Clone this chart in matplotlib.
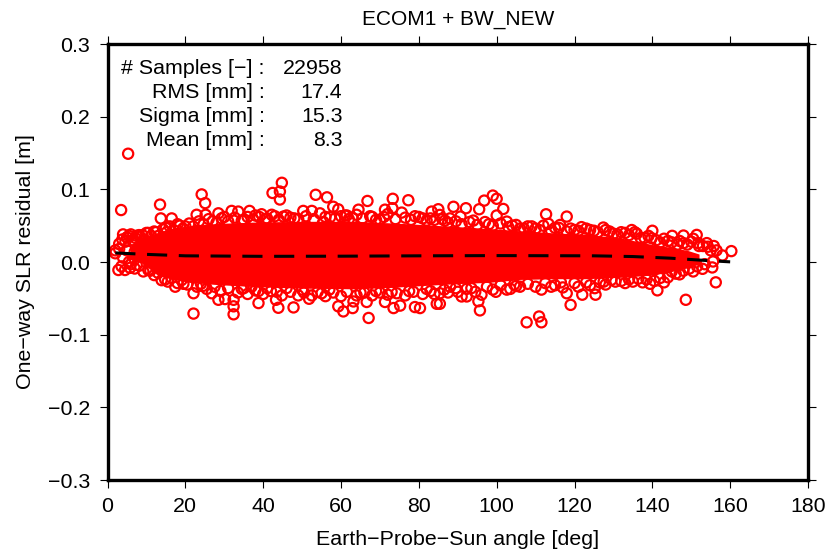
import matplotlib
matplotlib.use('Agg')
import matplotlib.pyplot as plt

plt.rcParams['font.family'] = ['Liberation Sans', 'DejaVu Sans']

# dense core of the cloud
core_deg = [6, 9, 12.6, 16, 21, 28, 38, 50, 64, 76, 89, 98, 106, 115, 123, 132, 140, 145, 149, 152]
core_top = [0.024, 0.033, 0.040, 0.046, 0.050, 0.053, 0.055, 0.056, 0.056, 0.053, 0.049, 0.046, 0.043, 0.040, 0.038, 0.033, 0.024, 0.020, 0.016, 0.011]
core_bot = [0.006, -0.002, -0.017, -0.023, -0.028, -0.031, -0.034, -0.036, -0.037, -0.034, -0.030, -0.028, -0.024, -0.023, -0.023, -0.021, -0.018, -0.013, -0.008, -0.003]

# single samples along the top of the cloud
top_deg = [5.3, 3.5, 13.5, 13.7, 16.5, 24.2, 25.1, 25.2, 22.9, 28.5, 31.9, 33.6, 36.5, 39.6, 42.2, 45.2,
           44.8, 42.4, 44.3, 44.3, 50.3, 52.5, 53.5, 54.6, 56.4, 57.2, 58.0, 59.3, 61.5, 64.5, 66.8, 71.3,
           73.3, 73.2, 75.6, 77.3, 83.3, 85.0, 85.4, 86.7, 88.9, 90.7, 92.1, 95.5, 96.8, 99.0, 100.0, 100.0,
           101.7, 102.6, 112.7, 113.3, 116.3, 118.0, 121.8, 127.4, 134.7, 140.0, 139.8, 145.1, 148.0, 148.0,
           151.4, 151.8, 154.3, 155.8, 158.0, 160.3,
           2, 4, 5, 6, 7.5, 9, 10.5, 12, 15, 18, 20, 27, 30, 35, 38, 41, 47, 49, 55.5, 60, 63, 68, 70, 72, 79, 81,
           84, 88, 94, 98, 104, 106, 108, 110, 115, 120, 123, 125, 129, 131, 133, 136, 138, 142, 144, 146.5, 150, 153]
top_val = [0.149, 0.0715, 0.079, 0.060, 0.060, 0.093, 0.081, 0.065, 0.065, 0.067, 0.0703, 0.0694, 0.0703, 0.0657, 0.065, 0.0625,
           0.109, 0.095, 0.097, 0.086, 0.0703, 0.0703, 0.0925, 0.067, 0.089, 0.0616, 0.076, 0.0725, 0.064, 0.072, 0.084, 0.072,
           0.087, 0.074, 0.068, 0.085, 0.0694, 0.0726, 0.0648, 0.057, 0.076, 0.0625, 0.074, 0.0726, 0.0845, 0.0914, 0.087, 0.064,
           0.073, 0.0556, 0.0657, 0.0525, 0.051, 0.0625, 0.048, 0.0474, 0.044, 0.043, 0.0328, 0.036, 0.0364, 0.026,
           0.0373, 0.026, 0.021, 0.022, 0.009, 0.015,
           0.016, 0.038, 0.034, 0.038, 0.036, 0.037, 0.040, 0.042, 0.047, 0.052, 0.049, 0.056, 0.062, 0.058, 0.064, 0.060, 0.061, 0.059, 0.055, 0.063, 0.060, 0.062, 0.058, 0.066, 0.063, 0.060,
           0.058, 0.060, 0.057, 0.052, 0.050, 0.046, 0.049, 0.046, 0.047, 0.044, 0.046, 0.043, 0.042, 0.038, 0.040, 0.039, 0.033, 0.027, 0.029, 0.024, 0.028, 0.022]

# second row of samples just above the core
upper_deg = [3, 3.8, 4.6, 5.5, 6.4, 7.2, 8.1, 9.4, 10, 11.2, 12.4, 13.1, 14.3, 15.2, 16, 17, 18.6, 19.4, 21, 22, 23.5, 24.7, 26, 28,
             29.3, 31, 32.7, 34.5, 36, 37.5, 39, 40.5, 43, 44, 46, 48, 51, 53, 56, 58.5, 61, 62, 64, 65.5, 67.5, 69, 71, 74, 76.5,
             78, 80, 82, 83, 86, 87.5, 89.5, 91, 93, 95, 97, 99, 101, 103, 105, 107, 109, 111, 112, 114, 116, 118, 119, 121, 124,
             126, 128, 130, 132, 134, 135.5, 137, 139, 141, 143, 145, 147, 149, 150.5, 152, 154, 155, 156.5]
upper_val = [0.025, 0.031, 0.028, 0.036, 0.030, 0.033, 0.037, 0.031, 0.040, 0.036, 0.041, 0.036, 0.045, 0.041, 0.049, 0.044, 0.050, 0.046, 0.053, 0.049, 0.056, 0.052, 0.059, 0.054,
             0.060, 0.056, 0.061, 0.057, 0.062, 0.058, 0.062, 0.059, 0.063, 0.058, 0.064, 0.060, 0.063, 0.059, 0.062, 0.060, 0.064, 0.059, 0.065, 0.060, 0.063, 0.058, 0.062, 0.059, 0.061,
             0.058, 0.062, 0.057, 0.060, 0.059, 0.054, 0.056, 0.052, 0.055, 0.051, 0.055, 0.050, 0.053, 0.048, 0.051, 0.046, 0.049, 0.044, 0.050, 0.043, 0.047, 0.042, 0.046, 0.043, 0.044,
             0.041, 0.044, 0.039, 0.041, 0.037, 0.041, 0.033, 0.036, 0.030, 0.032, 0.027, 0.029, 0.024, 0.032, 0.022, 0.026, 0.016, 0.016]

# single samples along the bottom of the cloud
bot_deg = [2.8, 4.5, 3.6, 5.8, 7.5, 9.2, 10.5, 13.9, 15.5, 17.4, 19.5, 22.1, 22.1, 24.5, 26.8, 28.5, 30.2, 32.4, 32.4, 32.4,
           35, 37, 38.8, 38.8, 41, 43.5, 43.3, 43.9, 46, 47.8, 50, 51.8, 55, 57, 59.3, 60.6, 63, 63.2, 65, 66.6, 67.1,
           69, 71.3, 73.5, 75.2, 74.3, 78.6, 79, 80.3, 82, 84.6, 85.4, 85.4, 88, 91, 92.3, 92.3, 95.7, 95.3, 96.1, 99.8,
           102.6, 105, 107.7, 110.9, 111.5, 111.5, 115, 118, 119, 122, 125.4, 125.2, 127.5, 129.5, 132, 134, 136.4, 139.4,
           141.3, 143, 145, 147, 148.6, 150.5, 152.9, 155.4, 155.6, 156.3]
bot_val = [-0.011, -0.011, -0.006, -0.008, -0.004, -0.013, -0.011, -0.025, -0.027, -0.034, -0.030, -0.071, -0.043, -0.033, -0.043, -0.052, -0.051, -0.072, -0.061, -0.052,
           -0.036, -0.034, -0.0565, -0.040, -0.036, -0.041, -0.052, -0.063, -0.036, -0.0625, -0.038, -0.0506, -0.043, -0.038, -0.061, -0.068, -0.0634, -0.0543, -0.042, -0.055, -0.077,
           -0.040, -0.055, -0.0634, -0.060, -0.043, -0.041, -0.062, -0.0634, -0.037, -0.0575, -0.0575, -0.043, -0.034, -0.0474, -0.037, -0.0474, -0.0666, -0.054, -0.045, -0.041,
           -0.038, -0.033, -0.083, -0.075, -0.083, -0.038, -0.032, -0.043, -0.059, -0.045, -0.045, -0.036, -0.027, -0.0245, -0.026, -0.024, -0.023, -0.030,
           -0.039, -0.028, -0.013, -0.017, -0.052, -0.013, -0.0094, -0.0075, 0.0007, -0.028]

# second row of samples just below the core, plus the loose ones at the far left
lower_deg = [2, 3, 4, 5, 5.5, 7, 7, 8.5,
             6, 7, 8.2, 11, 12, 13, 14.8, 16.5, 18, 19, 20.5, 23, 24, 25.5, 27.5, 29, 31, 33.5, 34.5, 36, 38, 40, 42, 44.8, 47, 49,
             50.5, 52.5, 54, 56, 58, 60, 61.5, 64, 66, 68, 70, 72, 73, 76.5, 77.5, 81, 83, 84, 86.5, 87.5, 89.5, 90, 93.5, 94.5, 97.5, 99,
             101, 103.5, 104.5, 106, 108, 110, 112.5, 114, 116.5, 117, 120, 121, 123, 124, 126.5, 128, 130.5, 133, 135, 137.5, 138.5, 140.5,
             142, 144, 146, 148, 149.5, 151.5, 153.5]
lower_val = [0.012, 0.018, 0.006, 0.016, 0.000, 0.014, 0.004, 0.022,
             -0.003, -0.009, -0.005, -0.012, -0.018, -0.015, -0.024, -0.022, -0.029, -0.025, -0.031, -0.034, -0.030, -0.037, -0.034, -0.040, -0.036, -0.042, -0.037, -0.044, -0.039, -0.044, -0.040, -0.046, -0.041, -0.046,
             -0.042, -0.046, -0.041, -0.047, -0.042, -0.047, -0.041, -0.046, -0.042, -0.046, -0.042, -0.045, -0.041, -0.046, -0.040, -0.044, -0.040, -0.044, -0.038, -0.042, -0.036, -0.041, -0.036, -0.041, -0.034, -0.038,
             -0.032, -0.037, -0.031, -0.034, -0.030, -0.034, -0.029, -0.034, -0.028, -0.035, -0.029, -0.034, -0.028, -0.032, -0.028, -0.031, -0.027, -0.029, -0.027, -0.028, -0.024, -0.026,
             -0.022, -0.021, -0.016, -0.012, -0.009, -0.006, -0.003]

# mean curve
mean_deg = [2, 10, 20, 40, 60, 80, 100, 125, 135, 144.5, 154, 160]
mean_val = [0.0125, 0.0105, 0.0085, 0.0078, 0.008, 0.0085, 0.0088, 0.0085, 0.0075, 0.0053, 0.002, 0.0002]

stat_labels = ['# Samples [\u2212] :', 'RMS [mm] :', 'Sigma [mm] :', 'Mean [mm] :']
stat_values = ['22958', '17.4', '15.3', '8.3']

xticks = list(range(0, 181, 20))
yticks = [-0.3, -0.2, -0.1, 0.0, 0.1, 0.2, 0.3]

fig = plt.figure(figsize=(8.27, 5.5), dpi=100)
ax = fig.add_axes([107.5 / 827, 70 / 550, 700.5 / 827, 436 / 550])

ax.fill_between(core_deg, core_bot, core_top, color='#ff0000', lw=0)
for xs, ys in [(top_deg, top_val), (upper_deg, upper_val), (bot_deg, bot_val), (lower_deg, lower_val)]:
    ax.scatter(xs, ys, s=54, facecolors='none', edgecolors='#ff0000', linewidths=1.6, clip_on=False)
ax.plot(mean_deg, mean_val, color='k', lw=2.2, linestyle=(0, (6.6, 3.8)), dash_capstyle='butt')

ax.set_xlim(0, 180)
ax.set_ylim(-0.3, 0.3)
ax.set_xticks(xticks)
ax.set_yticks(yticks)
ax.set_yticklabels(['\u2212%.1f' % abs(v) if v < 0 else '%.1f' % v for v in yticks])
ax.tick_params(direction='out', length=5.5, width=0.8, labelsize=15.4, top=True, right=True, pad=7)

for s in ax.spines.values():
    s.set_linewidth(2.4)

ax.set_xlabel('Earth\u2212Probe\u2212Sun angle [deg]', fontsize=15.4, labelpad=10)
ax.set_ylabel('One\u2212way SLR residual [m]', fontsize=15.4, labelpad=9)
ax.set_title('ECOM1 + BW_NEW', fontsize=15, pad=14)

for i in range(len(stat_labels)):
    y = 0.9322 - i * 24 / 436
    ax.text(0.2245, y, stat_labels[i], transform=ax.transAxes, ha='right', va='baseline', fontsize=15.4)
    ax.text(0.3354, y, stat_values[i], transform=ax.transAxes, ha='right', va='baseline', fontsize=15.4)

fig.savefig('out.png', dpi=100)
